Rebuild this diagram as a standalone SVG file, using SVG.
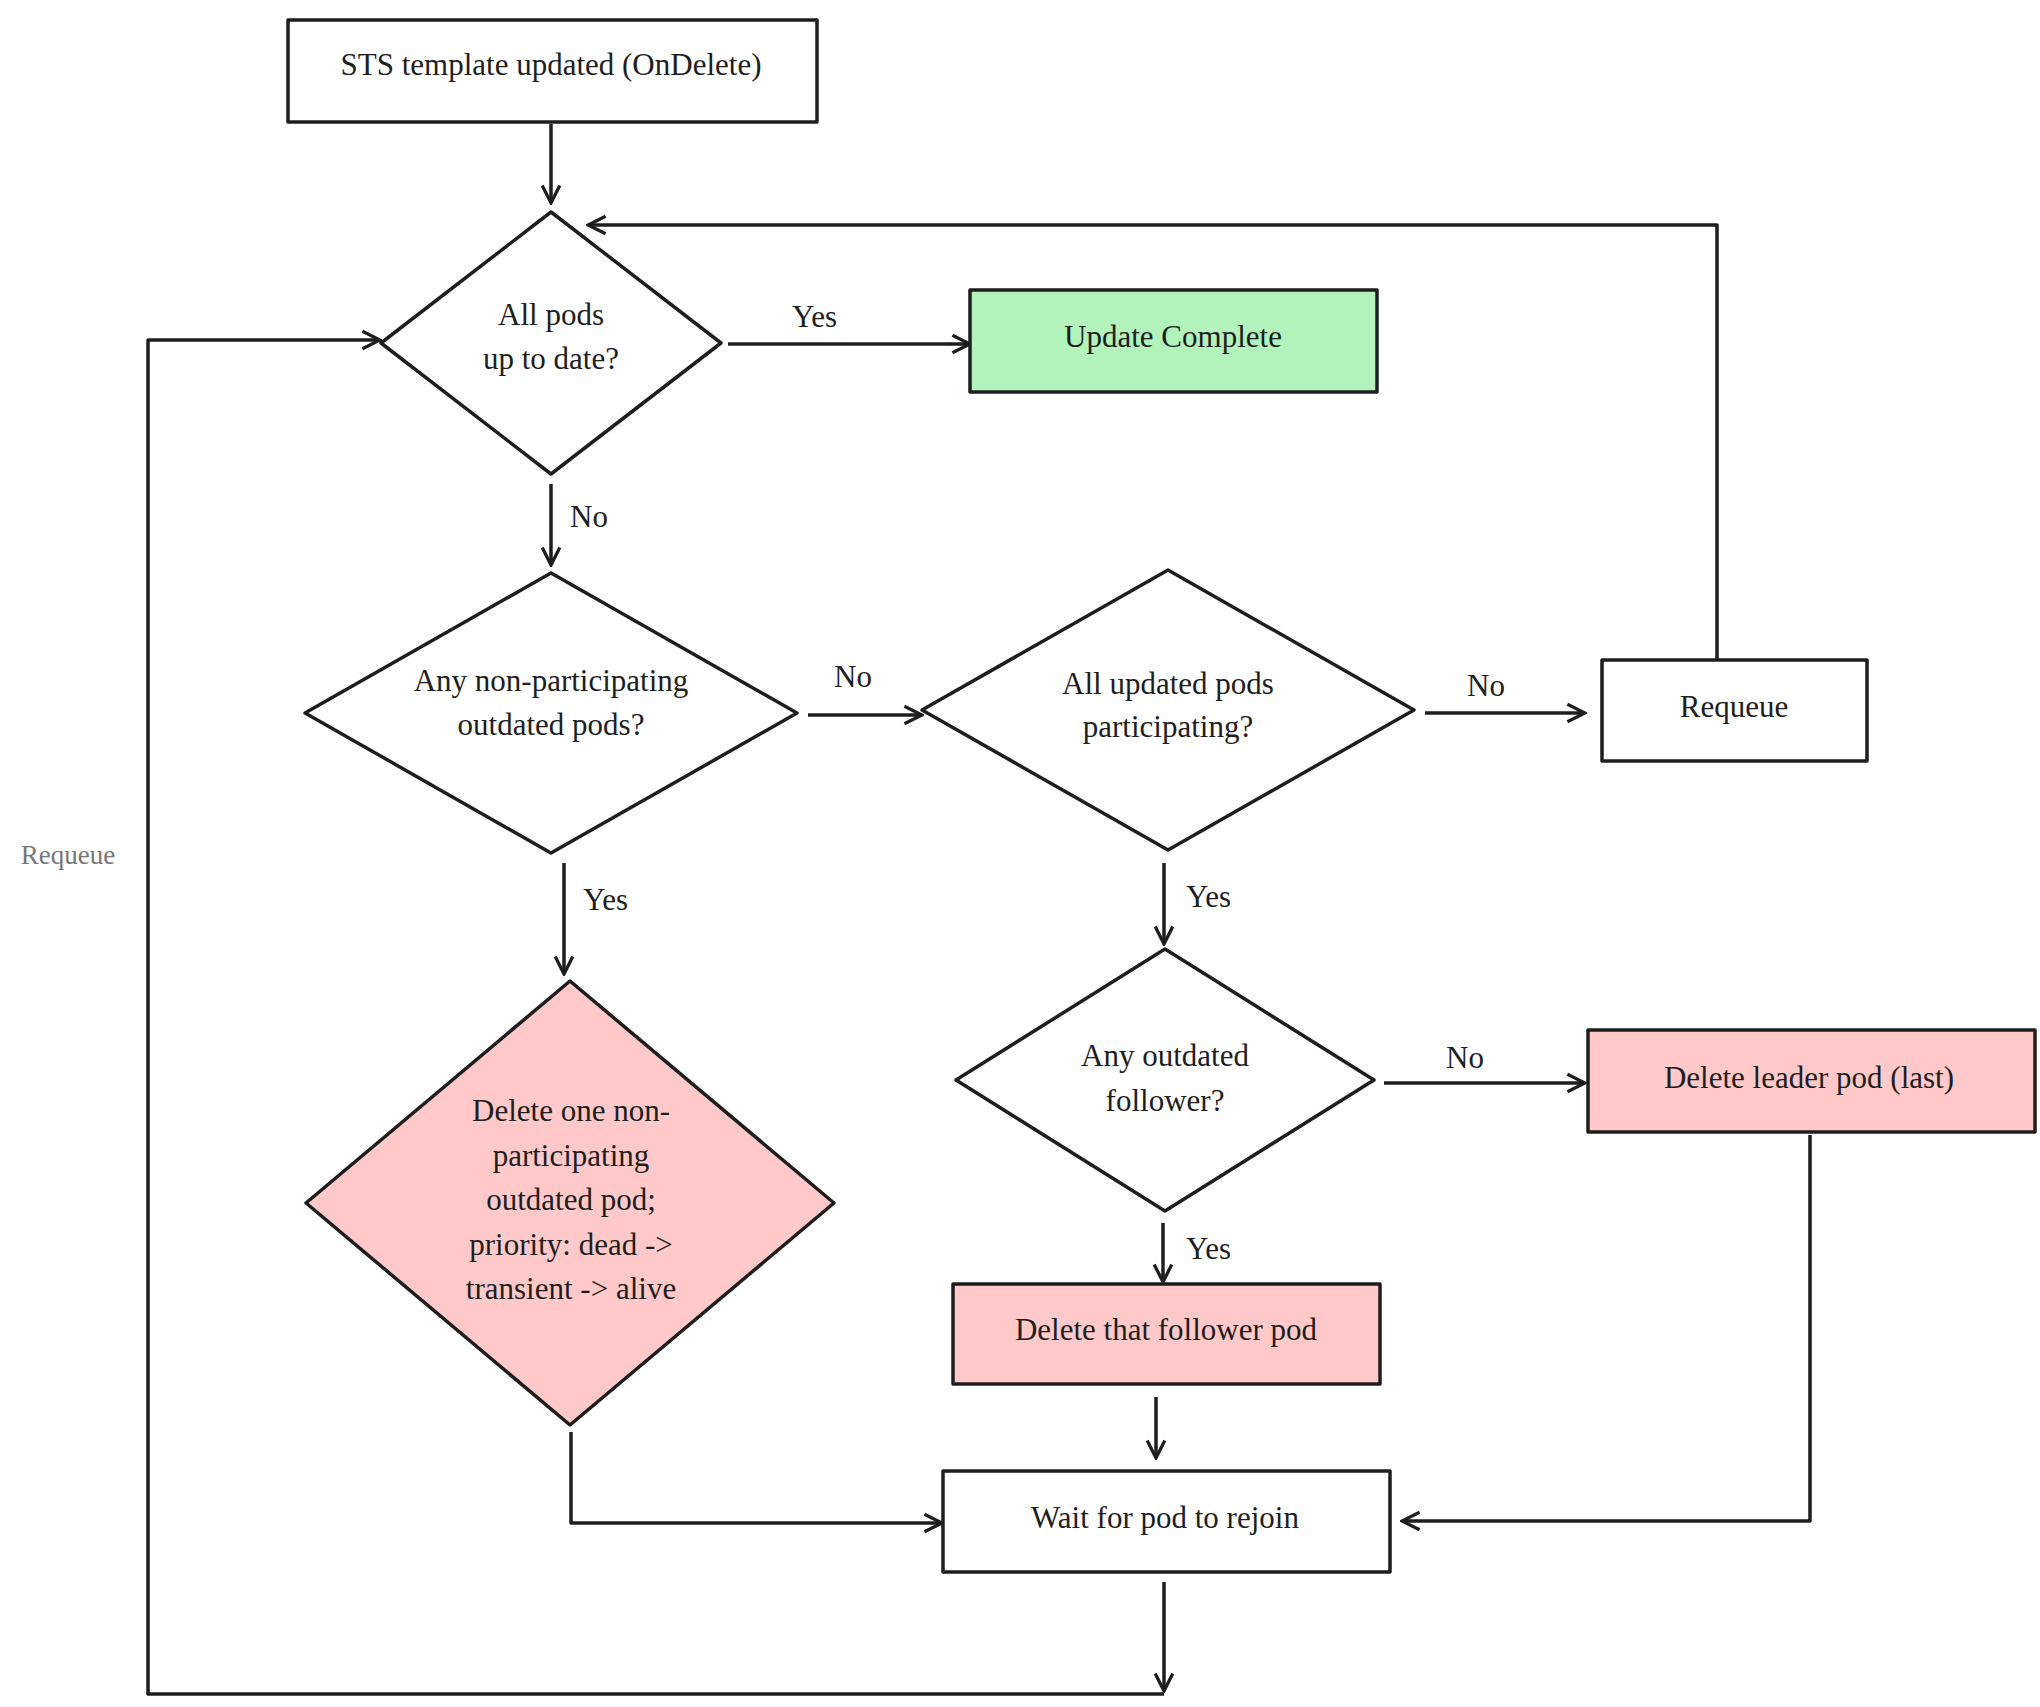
<svg xmlns="http://www.w3.org/2000/svg" width="2040" height="1707" viewBox="0 0 2040 1707">
<style>
.n{fill:#fff;stroke:#1e1e1e;stroke-width:3.5;stroke-linejoin:round}
.p{fill:#ffc9c9}
.g{fill:#b2f2bb}
text{font-family:"Liberation Serif",serif;font-size:31px;fill:#1e1e1e;text-anchor:middle;dominant-baseline:middle}
.c{fill:none;stroke:#1e1e1e;stroke-width:3.5;stroke-linejoin:round}
.lbl{text-anchor:start}
</style>
<defs>
<marker id="a" viewBox="0 0 20 20" refX="18" refY="10" markerWidth="22" markerHeight="22" markerUnits="userSpaceOnUse" orient="auto">
<path d="M2,2 L18,10 L2,18" fill="none" stroke="#1e1e1e" stroke-width="3"/>
</marker>
</defs>
<rect width="2040" height="1707" fill="#fff"/>
<g id="connectors">
<path class="c" d="M551,124 V203" marker-end="url(#a)"/>
<path class="c" d="M728,344 H970" marker-end="url(#a)"/>
<path class="c" d="M551,484 V565" marker-end="url(#a)"/>
<path class="c" d="M808,715 H922" marker-end="url(#a)"/>
<path class="c" d="M1425,713 H1585" marker-end="url(#a)"/>
<path class="c" d="M1717,660 V225 H588" marker-end="url(#a)"/>
<path class="c" d="M564,863 V974" marker-end="url(#a)"/>
<path class="c" d="M1164,863 V944" marker-end="url(#a)"/>
<path class="c" d="M1384,1083 H1585" marker-end="url(#a)"/>
<path class="c" d="M1163,1223 V1282" marker-end="url(#a)"/>
<path class="c" d="M1156,1397 V1458" marker-end="url(#a)"/>
<path class="c" d="M571,1432 V1523 H942" marker-end="url(#a)"/>
<path class="c" d="M1810,1135 V1521 H1402" marker-end="url(#a)"/>
<path class="c" d="M1164,1582 V1691" marker-end="url(#a)"/>
<path class="c" d="M1164,1694 H148 V340 H380" marker-end="url(#a)"/>
<text class="lbl" x="792" y="320">Yes</text>
<text class="lbl" x="570" y="520">No</text>
<text class="lbl" x="834" y="680">No</text>
<text class="lbl" x="1467" y="689">No</text>
<text class="lbl" x="583" y="903">Yes</text>
<text class="lbl" x="1186" y="900">Yes</text>
<text class="lbl" x="1446" y="1061">No</text>
<text class="lbl" x="1186" y="1252">Yes</text>
<text x="68" y="858" style="fill:#777;font-size:27px">Requeue</text>
</g>
<g id="sts"><rect class="n" x="288" y="20" width="529" height="102"/><text x="551" y="68">STS template updated (OnDelete)</text></g>
<g id="d1"><path class="n" d="M551,212 L721,343 L551,474 L381,343 Z"/><text x="551" y="318">All pods</text><text x="551" y="362">up to date?</text></g>
<g id="complete"><rect class="n g" x="970" y="290" width="407" height="102"/><text x="1173" y="340">Update Complete</text></g>
<g id="d2"><path class="n" d="M551,573 L797,713 L551,853 L305,713 Z"/><text x="551" y="684">Any non-participating</text><text x="551" y="728">outdated pods?</text></g>
<g id="d3"><path class="n" d="M1168,570 L1414,710 L1168,850 L922,710 Z"/><text x="1168" y="687">All updated pods</text><text x="1168" y="730">participating?</text></g>
<g id="requeue"><rect class="n" x="1602" y="660" width="265" height="101"/><text x="1734" y="710">Requeue</text></g>
<g id="d4"><path class="n p" d="M570,981 L834,1203 L570,1425 L306,1203 Z"/><text x="571" y="1114">Delete one non-</text><text x="571" y="1159">participating</text><text x="571" y="1203">outdated pod;</text><text x="571" y="1248">priority: dead -&gt;</text><text x="571" y="1292">transient -&gt; alive</text></g>
<g id="d5"><path class="n" d="M1165,949 L1374,1080 L1165,1211 L956,1080 Z"/><text x="1165" y="1059">Any outdated</text><text x="1165" y="1104">follower?</text></g>
<g id="leader"><rect class="n p" x="1588" y="1030" width="447" height="102"/><text x="1809" y="1081">Delete leader pod (last)</text></g>
<g id="follower"><rect class="n p" x="953" y="1284" width="427" height="100"/><text x="1166" y="1333">Delete that follower pod</text></g>
<g id="wait"><rect class="n" x="943" y="1471" width="447" height="101"/><text x="1165" y="1521">Wait for pod to rejoin</text></g>
</svg>
